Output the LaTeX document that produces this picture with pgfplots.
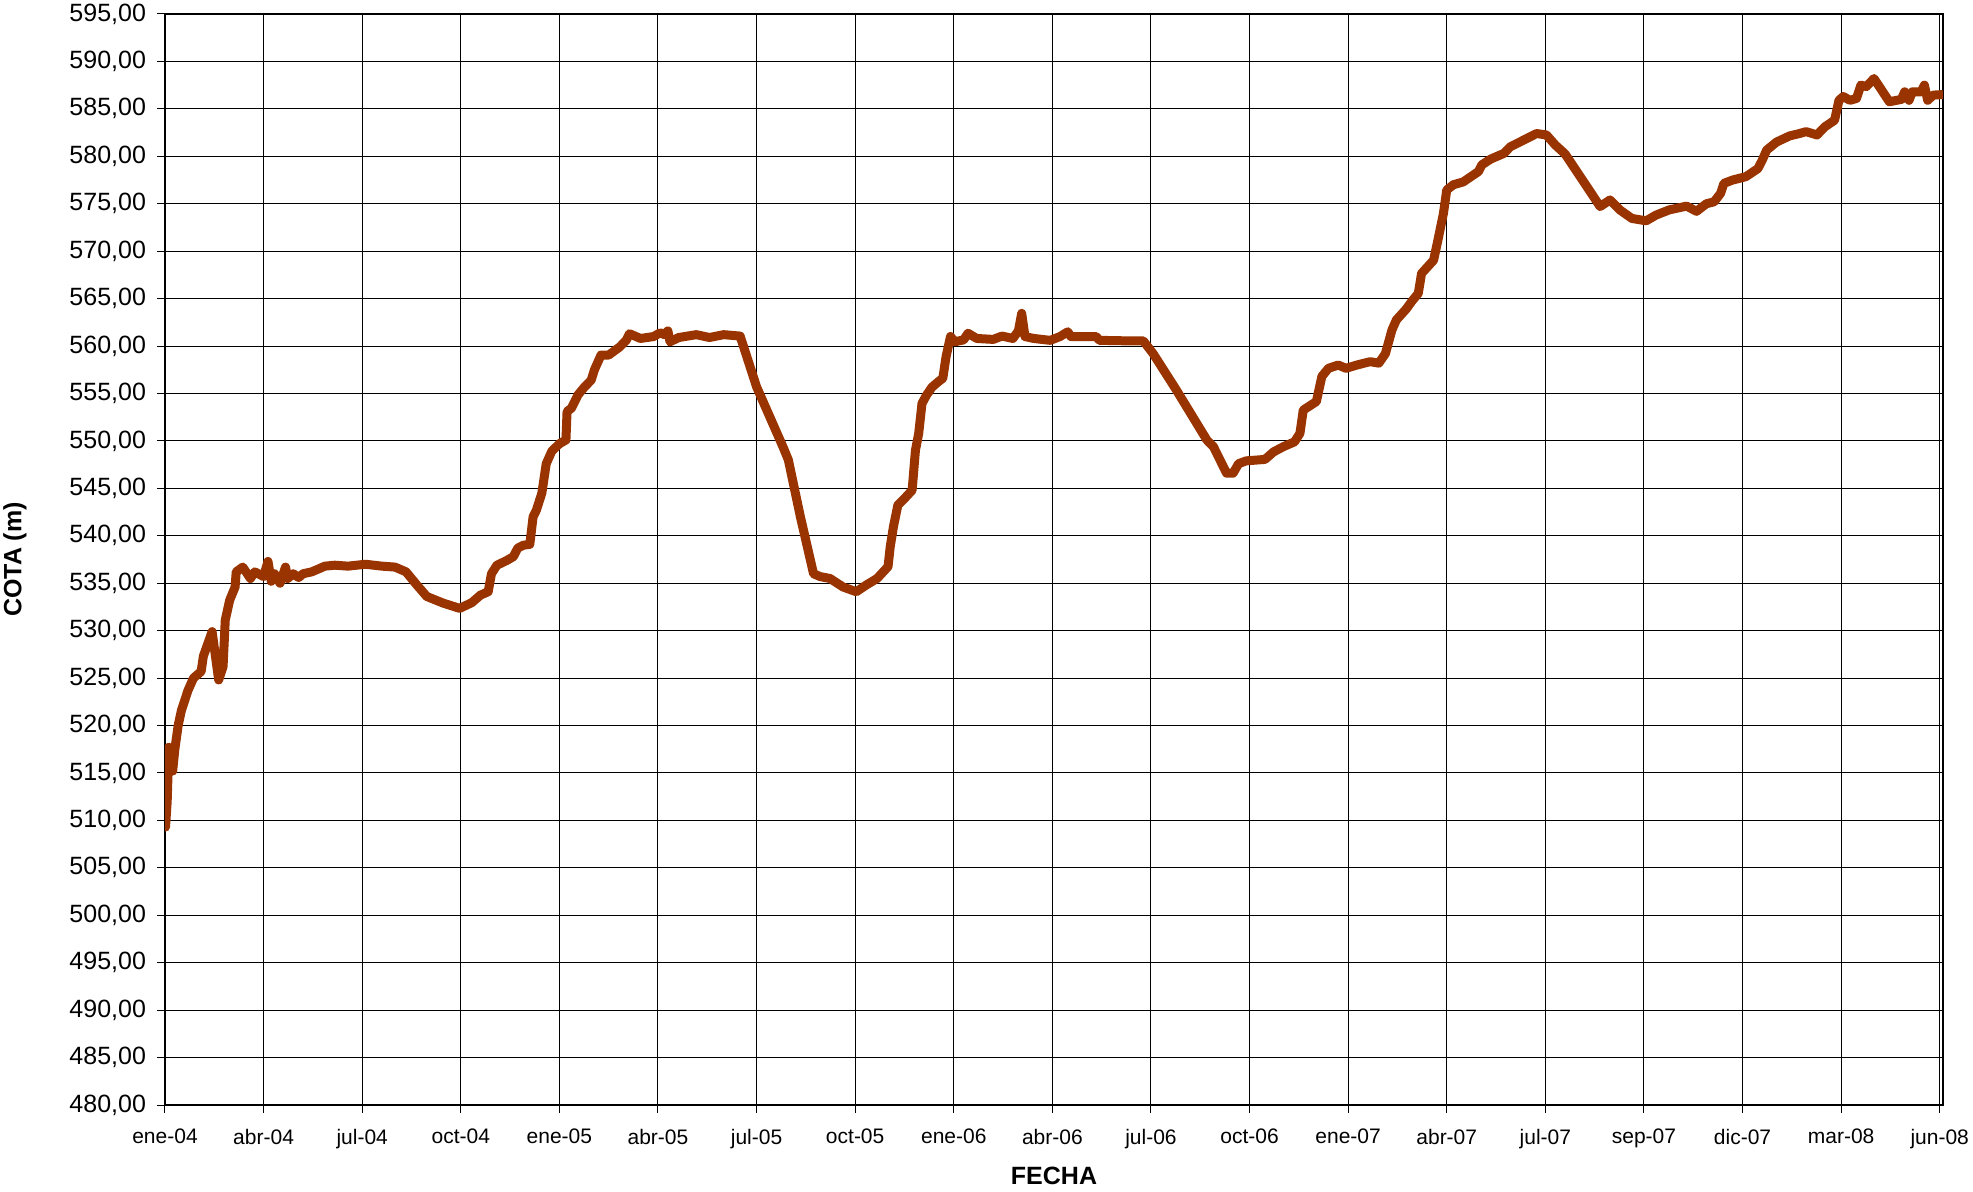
\documentclass[border=0pt]{standalone}
\usepackage{fontspec}
\setmainfont{Liberation Sans}
\usepackage{pgfplots}
\pgfplotsset{compat=1.18}
\definecolor{linec}{RGB}{153,51,0}
\begin{document}
\begin{tikzpicture}
\useasboundingbox (-82.5pt,-43pt) rectangle (904pt,552.5pt);
\begin{axis}[
  at={(0,0)}, anchor=south west,
  scale only axis, width=889pt, height=545.5pt,
  xmin=0, xmax=1623, ymin=480, ymax=595,
  xtick={0,90,...,1620},
  xticklabels={ene-04,abr-04,jul-04,oct-04,ene-05,abr-05,jul-05,oct-05,ene-06,abr-06,jul-06,oct-06,ene-07,abr-07,jul-07,sep-07,dic-07,mar-08,jun-08},
  ytick={480,485,...,595},
  grid=major, major grid style={black, line width=0.5pt},
  axis line style={black, line width=0.8pt},
  tick style={black, line width=0.5pt},
  tick align=outside, major tick length=4pt,
  xtick pos=left, ytick pos=left,
  /pgf/number format/assume math mode=true,
  yticklabel style={font=\fontsize{12.5}{14}\selectfont, xshift=-2pt, /pgf/number format/.cd, fixed, fixed zerofill, precision=2, use comma, 1000 sep={}},
  xticklabel style={font=\fontsize{10.5}{12}\selectfont, yshift=-4.5pt},
  xlabel={FECHA}, ylabel={COTA (m)},
  label style={font=\fontsize{12.5}{14}\selectfont\bfseries},
  xlabel style={at={(axis description cs:0.5,-0.0651)}, anchor=center},
  ylabel style={at={(axis description cs:-0.0844,0.5)}, anchor=center},
]
\addplot[linec, line width=4.5pt, line join=round, line cap=round] coordinates {
(0.5,509.3) (2,512) (3.5,517.7) (5.5,517.5) (7,515.2) (9,517.5) (12,520.0) (15,521.6) (21,523.7) (26,525.0) (33,525.7) (35,527.3) (43,529.9) (49,524.8) (53,526.2) (55,531.1) (59,533.2) (64,534.6) (65,536.2) (71,536.7) (78,535.5) (82,536.2) (90,535.7) (94,537.3) (97,535.2) (100,536.0) (105,535.0) (110,536.7) (112,535.5) (117,536.0) (122,535.6) (126,536.0) (134,536.2) (146,536.8) (155,536.9) (167,536.8) (183,537.0) (198,536.8) (210,536.7) (220,536.2) (230,534.8) (239,533.6) (254,532.9) (269,532.35) (280,532.95) (288,533.75) (295,534.1) (298,536.0) (303,536.9) (312,537.4) (318,537.8) (322,538.7) (327,539.0) (333,539.1) (336,542.0) (339,542.7) (344,544.5) (348,547.6) (353,548.9) (360,549.7) (366,550.1) (367,553.1) (371,553.45) (377,554.85) (383,555.7) (389,556.4) (392,557.5) (398,559.05) (405,559.05) (415,559.9) (421,560.6) (424,561.3) (434,560.8) (446,561.0) (452,561.4) (456,561.2) (459,561.6) (461,560.45) (469,560.9) (485,561.2) (497,560.9) (510,561.2) (525,561.05) (540,555.7) (552,552.55) (564,549.4) (569,548.0) (580,542.0) (592,536.0) (598,535.7) (607,535.5) (619,534.6) (631,534.1) (640,534.8) (650,535.5) (660,536.75) (662,538.85) (665,541.0) (669,543.25) (674,543.8) (682,544.8) (685,549.0) (688,550.8) (691,553.95) (695,554.8) (700,555.65) (706,556.25) (710,556.6) (713,558.9) (717,561.0) (721,560.45) (729,560.65) (733,561.35) (741,560.8) (756,560.7) (764,561.05) (774,560.8) (779,561.6) (782,563.45) (785,561.0) (793,560.8) (808,560.6) (817,561.0) (824,561.5) (827,561.0) (850,561.0) (853,560.6) (877,560.55) (893,560.55) (902,559.2) (923,555.4) (951,550.1) (957,549.4) (969,546.6) (975,546.6) (980,547.6) (987,547.9) (1004,548.05) (1012,548.85) (1021,549.4) (1031,549.9) (1036,550.8) (1039,553.25) (1045,553.7) (1051,554.15) (1056,556.8) (1062,557.65) (1071,558.0) (1078,557.65) (1088,558.0) (1100,558.35) (1108,558.2) (1114,559.2) (1120,561.7) (1124,562.75) (1133,563.9) (1138,564.7) (1144,565.55) (1147,567.65) (1158,569.05) (1162,571.2) (1167,574.0) (1170,576.45) (1176,577.0) (1185,577.3) (1199,578.4) (1202,579.1) (1210,579.7) (1222,580.3) (1228,581.0) (1240,581.7) (1252,582.4) (1261,582.25) (1269,581.2) (1278,580.25) (1291,578.0) (1310,574.7) (1319,575.4) (1328,574.35) (1339,573.45) (1352,573.2) (1361,573.8) (1373,574.35) (1389,574.75) (1398,574.2) (1407,575.0) (1414,575.2) (1420,576.1) (1423,577.15) (1431,577.5) (1443,577.85) (1454,578.7) (1458,579.6) (1462,580.65) (1471,581.5) (1483,582.15) (1492,582.4) (1498,582.6) (1508,582.25) (1515,583.1) (1524,583.8) (1528,585.9) (1532,586.3) (1538,585.9) (1544,586.1) (1548,587.5) (1553,587.35) (1560,588.2) (1574,585.75) (1585,586.0) (1588,586.8) (1592,585.9) (1595,586.8) (1603,586.8) (1606,587.5) (1609,585.9) (1614,586.45) (1622,586.5)
};
\end{axis}
\end{tikzpicture}
\end{document}
